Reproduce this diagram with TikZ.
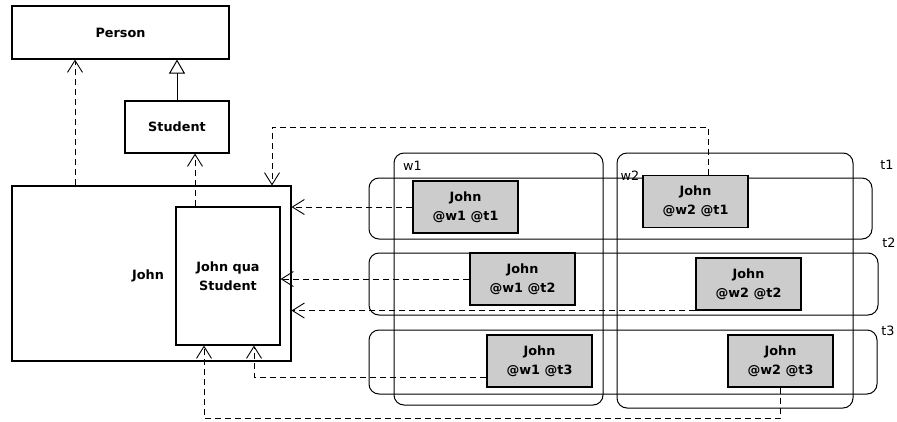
\documentclass[tikz,border=0pt]{standalone}
\usepackage{fontspec}
\setmainfont{DejaVu Sans}
\usetikzlibrary{arrows.meta,calc}
\begin{document}
\begin{tikzpicture}[x=1pt,y=-1pt,
  box/.style={draw, line width=1.1pt, inner sep=0pt, font=\bfseries\fontsize{12.8}{19}\selectfont, align=center},
  greybox/.style={box, fill=black!20, minimum width=105pt, minimum height=52pt},
  region/.style={draw, line width=1pt, rounded corners=10pt, inner sep=0pt},
  lbl/.style={font=\fontsize{12.8}{15}\selectfont, inner sep=0pt},
  dep/.style={dash pattern=on 6pt off 4pt, line width=0.9pt, -{Straight Barb[length=12pt,width=15pt]}},
  gen/.style={line width=1pt, -{Triangle[open,length=14pt,width=16pt,fill=white]}}]
\useasboundingbox (0,0) rectangle (897,421);
% regions
\node[region, minimum width=209pt, minimum height=252pt] (w1) at (498.5,279) {};
\node[region, minimum width=236pt, minimum height=255pt] (w2) at (735,280.5) {};
\node[region, minimum width=503pt, minimum height=61pt] (t1) at (620.5,208.5) {};
\node[region, minimum width=509pt, minimum height=62pt] (t2) at (623.5,284) {};
\node[region, minimum width=508pt, minimum height=64pt] (t3) at (623,362) {};
\node[lbl, anchor=west] (w1l) at (403,166) {w1};
\node[lbl] (w2l) at (630,176) {w2};
\node[lbl] (t1l) at (887,165) {t1};
\node[lbl] (t2l) at (889,243) {t2};
\node[lbl] (t3l) at (888,331) {t3};
% class boxes
\node[box, minimum width=217pt, minimum height=53pt] (person) at (120.5,32.5) {Person};
\node[box, minimum width=104pt, minimum height=52pt] (student) at (177,127) {Student};
\node[box, minimum width=279pt, minimum height=175pt] (johnbox) at (151.5,273.5) {};
\node[font=\bfseries\fontsize{12.8}{19}\selectfont, inner sep=0pt] (johnlbl) at (148,276) {John};
\node[box, fill=white, minimum width=104pt, minimum height=138pt] (jqs) at (228,276) {John qua\\Student};
% instances
\node[greybox] (j11) at (465.5,207) {John\\@w1 @t1};
\node[greybox] (j12) at (522.5,279) {John\\@w1 @t2};
\node[greybox] (j13) at (539.5,361) {John\\@w1 @t3};
\node[greybox] (j21) at (695.5,201.5) {John\\@w2 @t1};
\node[greybox] (j22) at (748.5,284) {John\\@w2 @t2};
\node[greybox] (j23) at (780.5,361) {John\\@w2 @t3};
% connectors
\draw[gen] (student.north) -- (student.north |- person.south);
\coordinate (c1) at (75,0);
\draw[dep] (johnbox.north -| c1) -- (person.south -| c1);
\coordinate (c2) at (195,0);
\draw[dep] (jqs.north -| c2) -- (student.south -| c2);
\coordinate (c3) at (708,127);
\coordinate (c4) at (272,127);
\draw[dep] (j21.north -| c3) -- (c3) -- (c4) -- (johnbox.north -| c4);
\draw[dep] (j11.west) -- (j11.west -| johnbox.east);
\draw[dep] (j12.west) -- (j12.west -| jqs.east);
\draw[dep] (j22.south west) -- (j22.south west -| johnbox.east);
\coordinate (c5) at (254,377);
\draw[dep] (j13.west |- c5) -- (c5) -- (jqs.south -| c5);
\coordinate (c6) at (204,418);
\draw[dep] (j23.south) -- (j23.south |- c6) -- (c6) -- (jqs.south -| c6);
\end{tikzpicture}
\end{document}
